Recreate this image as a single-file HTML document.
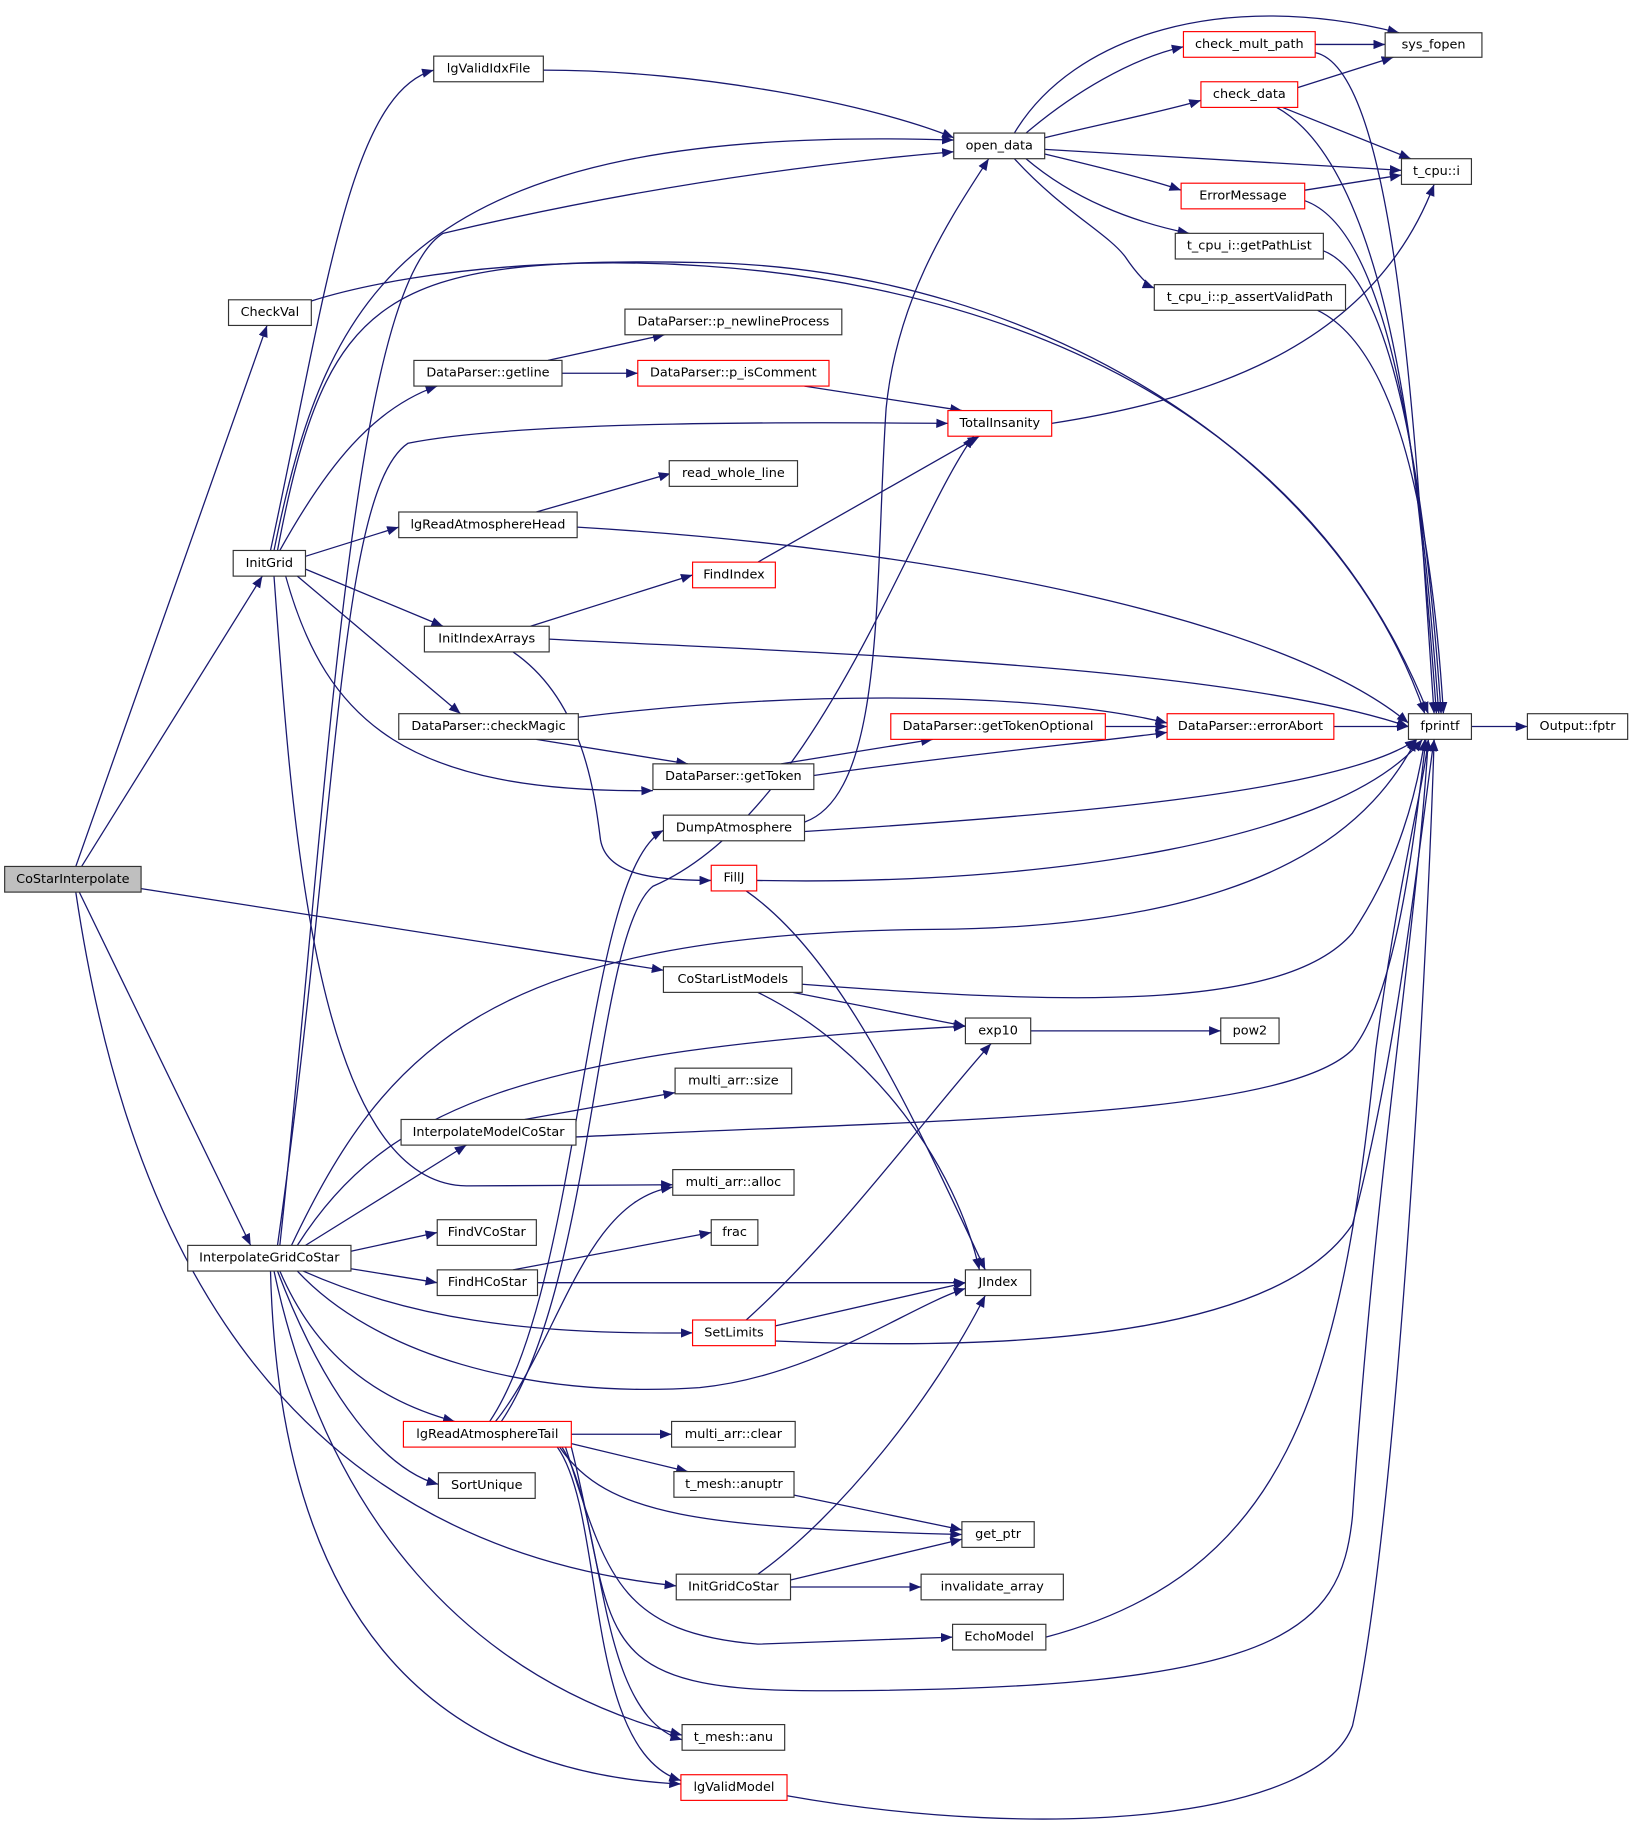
<!DOCTYPE html>
<html><head><meta charset="utf-8"><style>
html,body{margin:0;padding:0;background:#fff}
svg{display:block}
text{font-family:"DejaVu Sans","Liberation Sans",sans-serif;font-size:11px;text-anchor:middle;dominant-baseline:central;fill:#000}
.e{fill:none;stroke:#191970;stroke-width:1.1;marker-end:url(#a)}
rect{fill:#fff;stroke:#333;stroke-width:1}
rect.r{stroke:#ff0000}
</style></head><body>
<svg width="1637" height="1832" viewBox="0 0 1404 1571" xmlns="http://www.w3.org/2000/svg">
<defs><marker id="a" markerUnits="userSpaceOnUse" markerWidth="11" markerHeight="8" refX="10" refY="4" orient="auto"><path d="M0,0 L10,4 L0,8 z" fill="#191970"/></marker></defs>
<g>
<path class="e" d="M65,743 L229,279"/>
<path class="e" d="M70,743 L225,494"/>
<path class="e" d="M121,762 L569,832"/>
<path class="e" d="M68,765 L215,1068"/>
<path class="e" d="M65,765 C100,1000 200,1320 580,1360"/>
<path class="e" d="M267,258 C450,200 1050,170 1225,612"/>
<path class="e" d="M232,472 C280,250 300,80 372,60"/>
<path class="e" d="M235,472 C280,250 350,105 818,120"/>
<path class="e" d="M238,472 C280,250 330,220 600,225 C900,230 1150,400 1222,612"/>
<path class="e" d="M240,472 C280,400 320,350 375,331"/>
<path class="e" d="M262,477 L342,452"/>
<path class="e" d="M262,488 L380,537"/>
<path class="e" d="M255,494 L395,612"/>
<path class="e" d="M245,494 C280,620 350,680 560,678"/>
<path class="e" d="M235,494 C250,700 270,1015 400,1017 L577,1016"/>
<path class="e" d="M466,60 C600,60 750,90 818,118"/>
<path class="e" d="M470,309 L570,287"/>
<path class="e" d="M482,320 L547,320"/>
<path class="e" d="M690,331 L825,352"/>
<path class="e" d="M460,439 L575,406"/>
<path class="e" d="M495,452 C800,470 1100,530 1208,620"/>
<path class="e" d="M455,537 L594,493"/>
<path class="e" d="M471,548 C700,560 1050,570 1208,623"/>
<path class="e" d="M440,559 C500,600 510,680 515,720 C520,750 560,755 610,755"/>
<path class="e" d="M650,482 L840,374"/>
<path class="e" d="M496,615 C700,590 900,595 1001,620"/>
<path class="e" d="M460,634 L590,655"/>
<path class="e" d="M670,655 L800,634"/>
<path class="e" d="M698,665 C800,650 950,635 1001,628"/>
<path class="e" d="M948,623 L1001,623"/>
<path class="e" d="M1144,623 L1208,623"/>
<path class="e" d="M1262,623 L1310,623"/>
<path class="e" d="M690,705 C760,680 750,500 760,350 C770,250 820,180 848,136"/>
<path class="e" d="M690,713 C900,700 1150,680 1215,634"/>
<path class="e" d="M649,755 C900,760 1150,720 1220,634"/>
<path class="e" d="M640,764 C720,820 780,950 845,1089"/>
<path class="e" d="M870,114 C920,30 1050,-10 1200,28"/>
<path class="e" d="M880,114 C920,80 970,50 1015,40"/>
<path class="e" d="M896,118 C950,105 1000,95 1030,86"/>
<path class="e" d="M896,128 L1202,146"/>
<path class="e" d="M896,132 C950,145 990,155 1013,163"/>
<path class="e" d="M880,136 C920,170 970,190 1020,200"/>
<path class="e" d="M870,136 C910,180 950,200 965,220 C975,235 985,245 990,247"/>
<path class="e" d="M1128,38 L1188,38"/>
<path class="e" d="M1128,45 C1200,60 1215,400 1230,612"/>
<path class="e" d="M1113,75 L1195,49"/>
<path class="e" d="M1100,92 L1210,136"/>
<path class="e" d="M1095,92 C1200,150 1220,450 1232,612"/>
<path class="e" d="M1119,163 L1202,150"/>
<path class="e" d="M1119,172 C1200,200 1222,450 1234,612"/>
<path class="e" d="M1135,215 C1200,240 1225,450 1236,612"/>
<path class="e" d="M1130,266 C1200,300 1228,450 1238,612"/>
<path class="e" d="M902,363 C1050,340 1180,290 1230,158"/>
<path class="e" d="M688,844 C900,860 1100,870 1160,800 C1200,740 1215,680 1222,634"/>
<path class="e" d="M680,851 L828,880"/>
<path class="e" d="M650,851 C750,900 820,1000 840,1089"/>
<path class="e" d="M884,884 L1047,884"/>
<path class="e" d="M450,960 L579,937"/>
<path class="e" d="M494,975 C800,960 1100,960 1160,900 C1200,850 1215,700 1223,634"/>
<path class="e" d="M262,1068 L400,982"/>
<path class="e" d="M301,1073 L375,1057"/>
<path class="e" d="M301,1088 L375,1100"/>
<path class="e" d="M260,1090 C350,1130 450,1145 594,1143"/>
<path class="e" d="M255,1090 C320,1160 450,1200 600,1190 C700,1180 780,1120 828,1105"/>
<path class="e" d="M240,1090 C270,1160 320,1200 390,1219"/>
<path class="e" d="M238,1090 C280,1200 330,1260 376,1273"/>
<path class="e" d="M235,1090 C280,1300 400,1440 585,1488"/>
<path class="e" d="M232,1090 C240,1400 380,1520 584,1530"/>
<path class="e" d="M255,1068 C330,950 450,900 828,880"/>
<path class="e" d="M250,1068 C330,900 420,800 800,797 C1100,795 1180,700 1215,634"/>
<path class="e" d="M240,1068 C280,700 300,250 380,200 C550,160 700,140 818,130"/>
<path class="e" d="M238,1068 C290,700 290,420 350,380 C450,360 700,362 813,363"/>
<path class="e" d="M420,1219 C500,1100 500,750 569,712"/>
<path class="e" d="M430,1219 C510,1100 510,800 560,760 C700,700 780,450 835,374"/>
<path class="e" d="M425,1219 C480,1150 500,1030 577,1018"/>
<path class="e" d="M490,1230 L576,1230"/>
<path class="e" d="M490,1238 L590,1262"/>
<path class="e" d="M480,1241 C520,1300 600,1310 825,1316"/>
<path class="e" d="M485,1241 C520,1350 530,1400 650,1410 L817,1404"/>
<path class="e" d="M490,1241 C530,1400 500,1450 700,1450 C1100,1450 1150,1400 1160,1300 C1180,1000 1215,800 1225,634"/>
<path class="e" d="M482,1241 C520,1300 510,1470 585,1492"/>
<path class="e" d="M478,1241 C520,1300 500,1500 584,1527"/>
<path class="e" d="M680,1282 L825,1312"/>
<path class="e" d="M678,1355 L825,1320"/>
<path class="e" d="M678,1361 L790,1361"/>
<path class="e" d="M650,1350 C720,1300 800,1200 845,1111"/>
<path class="e" d="M897,1404 C1100,1350 1150,1200 1180,900 C1200,750 1220,680 1225,634"/>
<path class="e" d="M675,1540 C900,1580 1130,1560 1160,1480 C1200,1300 1225,800 1230,634"/>
<path class="e" d="M640,1132 C720,1060 800,950 850,895"/>
<path class="e" d="M665,1137 L828,1100"/>
<path class="e" d="M665,1150 C900,1160 1100,1140 1160,1050 C1200,900 1220,700 1230,634"/>
<path class="e" d="M461,1100 L828,1100"/>
<path class="e" d="M440,1089 L610,1057"/>
</g>
<g>
<rect x="4" y="743" width="117" height="22" style="fill:#bfbfbf"/><text x="62.5" y="754">CoStarInterpolate</text>
<rect x="196" y="257" width="71" height="22"/><text x="231.5" y="268">CheckVal</text>
<rect x="200" y="472" width="62" height="22"/><text x="231" y="483">InitGrid</text>
<rect x="161" y="1068" width="140" height="22"/><text x="231" y="1079">InterpolateGridCoStar</text>
<rect x="372" y="48" width="94" height="22"/><text x="419" y="59">lgValidIdxFile</text>
<rect x="355" y="309" width="127" height="22"/><text x="418.5" y="320">DataParser::getline</text>
<rect x="342" y="439" width="153" height="22"/><text x="418.5" y="450">lgReadAtmosphereHead</text>
<rect x="364" y="537" width="107" height="22"/><text x="417.5" y="548">InitIndexArrays</text>
<rect x="342" y="612" width="154" height="22"/><text x="419" y="623">DataParser::checkMagic</text>
<rect x="560" y="655" width="138" height="22"/><text x="629" y="666">DataParser::getToken</text>
<rect x="569" y="699" width="121" height="22"/><text x="629.5" y="710">DumpAtmosphere</text>
<rect class="r" x="610" y="742" width="39" height="22"/><text x="629.5" y="753">FillJ</text>
<rect x="569" y="829" width="119" height="22"/><text x="628.5" y="840">CoStarListModels</text>
<rect x="579" y="916" width="100" height="22"/><text x="629" y="927">multi_arr::size</text>
<rect x="344" y="960" width="150" height="22"/><text x="419" y="971">InterpolateModelCoStar</text>
<rect x="577" y="1003" width="104" height="22"/><text x="629" y="1014">multi_arr::alloc</text>
<rect x="375" y="1046" width="85" height="22"/><text x="417.5" y="1057">FindVCoStar</text>
<rect x="610" y="1046" width="40" height="22"/><text x="630" y="1057">frac</text>
<rect x="375" y="1089" width="86" height="22"/><text x="418" y="1100">FindHCoStar</text>
<rect class="r" x="594" y="1132" width="71" height="22"/><text x="629.5" y="1143">SetLimits</text>
<rect class="r" x="346" y="1219" width="144" height="22"/><text x="418" y="1230">lgReadAtmosphereTail</text>
<rect x="576" y="1219" width="106" height="22"/><text x="629" y="1230">multi_arr::clear</text>
<rect x="376" y="1263" width="83" height="22"/><text x="417.5" y="1274">SortUnique</text>
<rect x="578" y="1262" width="103" height="22"/><text x="629.5" y="1273">t_mesh::anuptr</text>
<rect x="580" y="1350" width="98" height="22"/><text x="629" y="1361">InitGridCoStar</text>
<rect x="585" y="1479" width="88" height="22"/><text x="629" y="1490">t_mesh::anu</text>
<rect class="r" x="584" y="1522" width="91" height="22"/><text x="629.5" y="1533">lgValidModel</text>
<rect x="536" y="265" width="186" height="22"/><text x="629" y="276">DataParser::p_newlineProcess</text>
<rect class="r" x="547" y="309" width="164" height="22"/><text x="629" y="320">DataParser::p_isComment</text>
<rect x="574" y="395" width="110" height="22"/><text x="629" y="406">read_whole_line</text>
<rect class="r" x="594" y="482" width="71" height="22"/><text x="629.5" y="493">FindIndex</text>
<rect class="r" x="764" y="612" width="184" height="22"/><text x="856" y="623">DataParser::getTokenOptional</text>
<rect x="818" y="114" width="78" height="22"/><text x="857" y="125">open_data</text>
<rect class="r" x="813" y="352" width="89" height="22"/><text x="857.5" y="363">TotalInsanity</text>
<rect x="828" y="873" width="56" height="22"/><text x="856" y="884">exp10</text>
<rect x="828" y="1089" width="56" height="22"/><text x="856" y="1100">JIndex</text>
<rect x="825" y="1305" width="62" height="22"/><text x="856" y="1316">get_ptr</text>
<rect x="790" y="1350" width="122" height="22"/><text x="851" y="1361">invalidate_array</text>
<rect x="817" y="1393" width="80" height="22"/><text x="857" y="1404">EchoModel</text>
<rect class="r" x="1015" y="27" width="113" height="22"/><text x="1071.5" y="38">check_mult_path</text>
<rect class="r" x="1030" y="70" width="83" height="22"/><text x="1071.5" y="81">check_data</text>
<rect class="r" x="1013" y="157" width="106" height="22"/><text x="1066" y="168">ErrorMessage</text>
<rect x="1008" y="200" width="127" height="22"/><text x="1071.5" y="211">t_cpu_i::getPathList</text>
<rect x="990" y="244" width="164" height="22"/><text x="1072" y="255">t_cpu_i::p_assertValidPath</text>
<rect class="r" x="1001" y="612" width="143" height="22"/><text x="1072.5" y="623">DataParser::errorAbort</text>
<rect x="1047" y="873" width="50" height="22"/><text x="1072" y="884">pow2</text>
<rect x="1188" y="28" width="83" height="21"/><text x="1229.5" y="38.5">sys_fopen</text>
<rect x="1202" y="136" width="60" height="22"/><text x="1232" y="147">t_cpu::i</text>
<rect x="1208" y="612" width="54" height="22"/><text x="1235" y="623">fprintf</text>
<rect x="1310" y="612" width="86" height="22"/><text x="1353" y="623">Output::fptr</text>
</g>
</svg>
</body></html>
